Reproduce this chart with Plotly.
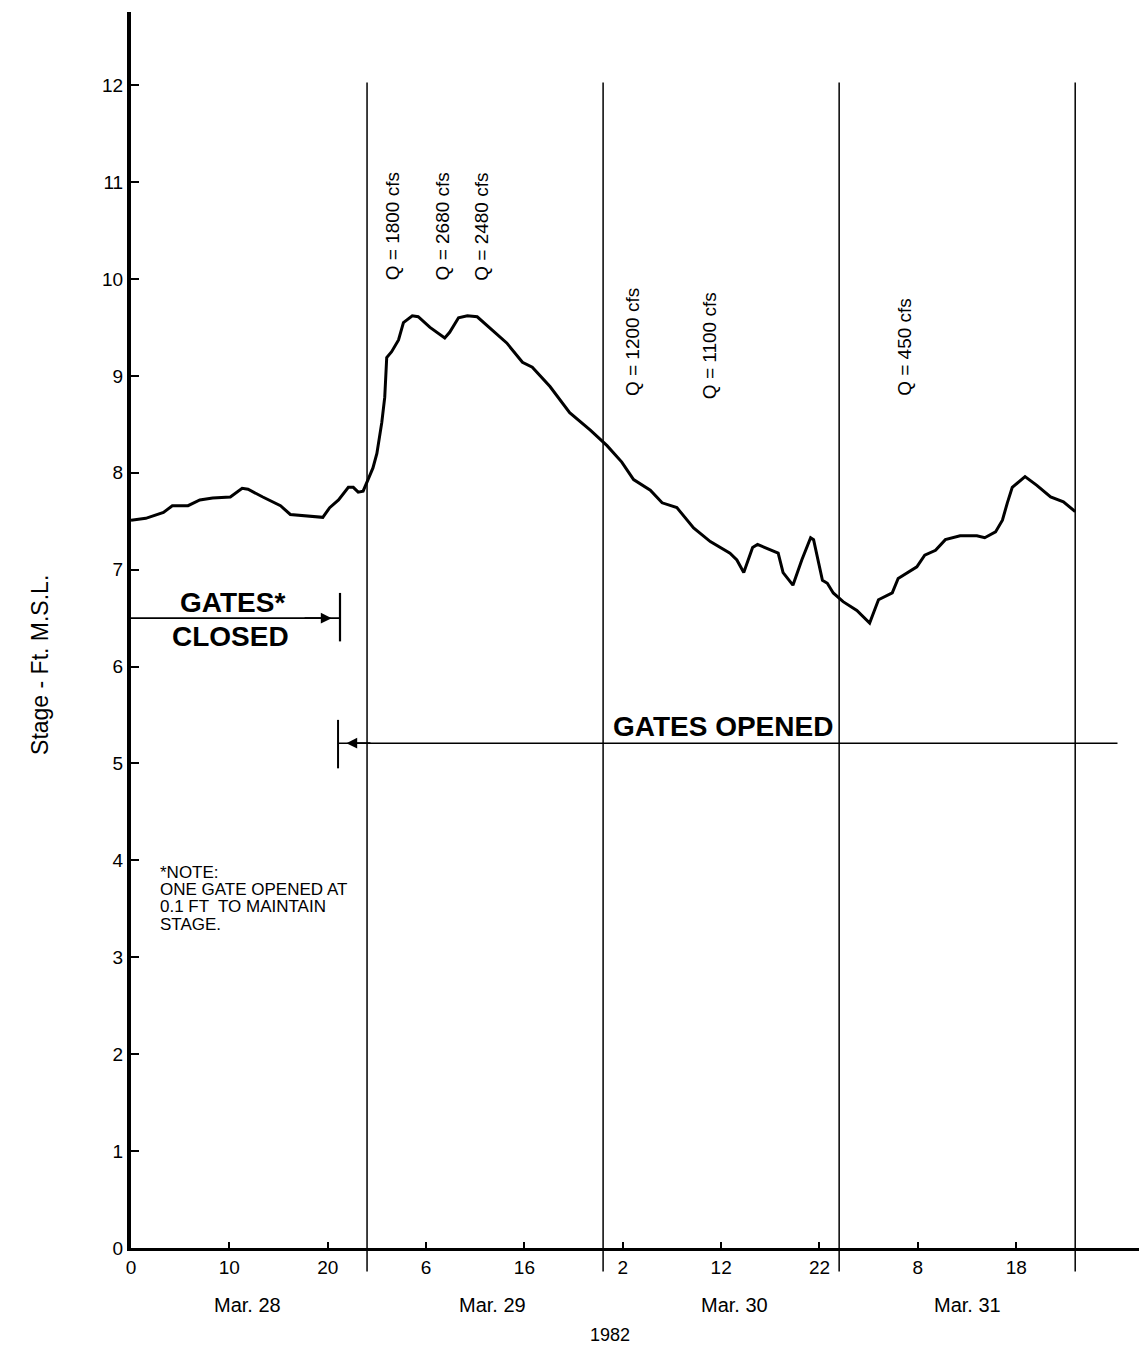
import plotly.graph_objects as go

# ---- data ----
hours = [0.0, 1.5, 3.3, 4.2, 5.8, 7.0, 8.3, 10.1, 11.3, 11.9, 13.4, 15.2, 16.2, 18.5, 19.5,
         20.2, 21.1, 22.1, 22.6, 23.1, 23.6, 24.1, 24.6, 25.0, 25.5, 25.8, 26.0, 26.5, 27.2,
         27.7, 28.6, 29.2, 30.4, 31.9, 32.4, 33.3, 34.2, 35.2, 36.8, 38.2, 39.8, 40.8, 42.6,
         44.6, 46.7, 48.4, 49.9, 51.1, 52.8, 54.0, 55.5, 57.2, 58.9, 60.9, 61.6, 62.3, 63.2,
         63.7, 65.8, 66.3, 67.3, 68.2, 69.1, 69.4, 70.3, 70.8, 71.4, 72.4, 73.8, 75.1, 76.0,
         77.4, 78.0, 79.9, 80.7, 81.8, 82.8, 84.3, 86.0, 86.8, 87.9, 88.6, 89.1, 89.6, 90.9,
         92.1, 93.5, 94.8, 96.0]
stage = [7.51, 7.53, 7.59, 7.66, 7.66, 7.72, 7.74, 7.75, 7.84, 7.83, 7.75, 7.66, 7.57, 7.55, 7.54,
         7.64, 7.72, 7.85, 7.85, 7.80, 7.81, 7.93, 8.05, 8.20, 8.52, 8.78, 9.19, 9.25, 9.37,
         9.55, 9.62, 9.61, 9.50, 9.39, 9.45, 9.60, 9.62, 9.61, 9.47, 9.34, 9.14, 9.09, 8.89,
         8.62, 8.44, 8.28, 8.11, 7.93, 7.82, 7.69, 7.64, 7.43, 7.29, 7.17, 7.10, 6.97, 7.23,
         7.26, 7.17, 6.97, 6.84, 7.10, 7.33, 7.31, 6.89, 6.86, 6.76, 6.67, 6.58, 6.45, 6.69,
         6.76, 6.91, 7.03, 7.15, 7.20, 7.31, 7.35, 7.35, 7.33, 7.39, 7.51, 7.69, 7.85, 7.96,
         7.87, 7.75, 7.70, 7.60]

tick_vals = [0, 10, 20, 30, 40, 50, 60, 70, 80, 90]
tick_text = ["0", "10", "20", "6", "16", "2", "12", "22", "8", "18"]
y_ticks = list(range(0, 13))

day_bounds = [24, 48, 72, 96]
day_labels = ["Mar. 28", "Mar. 29", "Mar. 30", "Mar. 31"]
day_label_pos = [11.8, 36.8, 61.4, 85.0]

q_labels = ["Q = 1800 cfs", "Q = 2680 cfs", "Q = 2480 cfs", "Q = 1200 cfs", "Q = 1100 cfs", "Q = 450 cfs"]
q_hours = [26.6, 31.7, 35.6, 51.05, 58.9, 78.7]
q_stage = [10.54, 10.54, 10.54, 9.35, 9.31, 9.30]

note_lines = ["*NOTE:", "ONE GATE OPENED AT", "0.1 FT  TO MAINTAIN", "STAGE."]

gates_closed = dict(start=0.0, end=21.25, level=6.5)
gates_opened = dict(start=21.05, end=100.3, level=5.21)

FONT = "Liberation Sans, Arial, Helvetica, sans-serif"

fig = go.Figure()
fig.add_trace(go.Scatter(x=hours, y=stage, mode="lines",
                         line=dict(color="black", width=3), hoverinfo="skip",
                         showlegend=False))

shapes = []
for d in day_bounds:
    shapes.append(dict(type="line", xref="x", yref="paper", x0=d, x1=d,
                       y0=-0.019, y1=0.943, line=dict(color="black", width=1.5)))
gc = gates_closed
shapes.append(dict(type="line", xref="x", yref="y", x0=gc["start"], x1=gc["end"],
                   y0=gc["level"], y1=gc["level"], line=dict(color="black", width=1.8)))
shapes.append(dict(type="line", xref="x", yref="y", x0=gc["end"], x1=gc["end"],
                   y0=gc["level"] - 0.24, y1=gc["level"] + 0.26, line=dict(color="black", width=2.2)))
go_ = gates_opened
shapes.append(dict(type="line", xref="x", yref="y", x0=go_["start"], x1=go_["end"],
                   y0=go_["level"], y1=go_["level"], line=dict(color="black", width=1.5)))
shapes.append(dict(type="line", xref="x", yref="y", x0=go_["start"], x1=go_["start"],
                   y0=go_["level"] - 0.26, y1=go_["level"] + 0.24, line=dict(color="black", width=2.0)))

ann = []
for t, h, s in zip(q_labels, q_hours, q_stage):
    ann.append(dict(x=h, y=s, xref="x", yref="y", text=t, showarrow=False, textangle=-90,
                    font=dict(family=FONT, size=19, color="black")))
ann.append(dict(x=10.27, y=6.66, xref="x", yref="y", text="<b>GATES*</b>", showarrow=False,
                font=dict(family=FONT, size=28, color="black")))
ann.append(dict(x=10.07, y=6.31, xref="x", yref="y", text="<b>CLOSED</b>", showarrow=False,
                font=dict(family=FONT, size=28, color="black")))
ann.append(dict(x=60.2, y=5.38, xref="x", yref="y", text="<b>GATES OPENED</b>", showarrow=False,
                font=dict(family=FONT, size=28, color="black")))
for i, line in enumerate(note_lines):
    ann.append(dict(x=2.75, y=3.88 - i * 0.18, xref="x", yref="y", xanchor="left",
                    yanchor="middle", text=line, showarrow=False,
                    font=dict(family=FONT, size=17, color="black")))
ann.append(dict(x=20.4, y=gc["level"], ax=17.5, ay=gc["level"], xref="x", yref="y",
                axref="x", ayref="y", text="", showarrow=True, arrowhead=2, arrowsize=1.2,
                arrowwidth=1.8, arrowcolor="black"))
ann.append(dict(x=21.9, y=go_["level"], ax=24.5, ay=go_["level"], xref="x", yref="y",
                axref="x", ayref="y", text="", showarrow=True, arrowhead=2, arrowsize=1.2,
                arrowwidth=1.8, arrowcolor="black"))
for t, h in zip(day_labels, day_label_pos):
    ann.append(dict(x=h, y=-0.046, xref="x", yref="paper", xanchor="center", yanchor="middle",
                    text=t, showarrow=False, font=dict(family=FONT, size=20, color="black")))
ann.append(dict(x=48.7, y=-0.0704, xref="x", yref="paper", xanchor="center", yanchor="middle",
                text="1982", showarrow=False, font=dict(family=FONT, size=18, color="black")))
ann.append(dict(x=-0.0896, y=0.4717, xref="paper", yref="paper", xanchor="center",
                yanchor="middle", text="Stage - Ft. M.S.L.",
                showarrow=False, textangle=-90, font=dict(family=FONT, size=23, color="black")))

fig.update_layout(
    width=1147, height=1347,
    margin=dict(l=123, r=8, t=4, b=107),
    paper_bgcolor="white", plot_bgcolor="white",
    shapes=shapes, annotations=ann,
    xaxis=dict(range=[0, 103.3], tickvals=tick_vals, ticktext=tick_text,
               ticks="inside", ticklen=6, tickwidth=1.5, tickcolor="black",
               showline=True, linewidth=3, linecolor="black", showgrid=False, zeroline=False,
               tickfont=dict(family=FONT, size=19, color="black")),
    yaxis=dict(range=[0, 12.755], tickvals=y_ticks,
               ticks="inside", ticklen=8, tickwidth=1.5, tickcolor="black",
               showline=True, linewidth=4, linecolor="black", showgrid=False, zeroline=False,
               tickfont=dict(family=FONT, size=19, color="black")),
)

fig.write_html("out.html")
